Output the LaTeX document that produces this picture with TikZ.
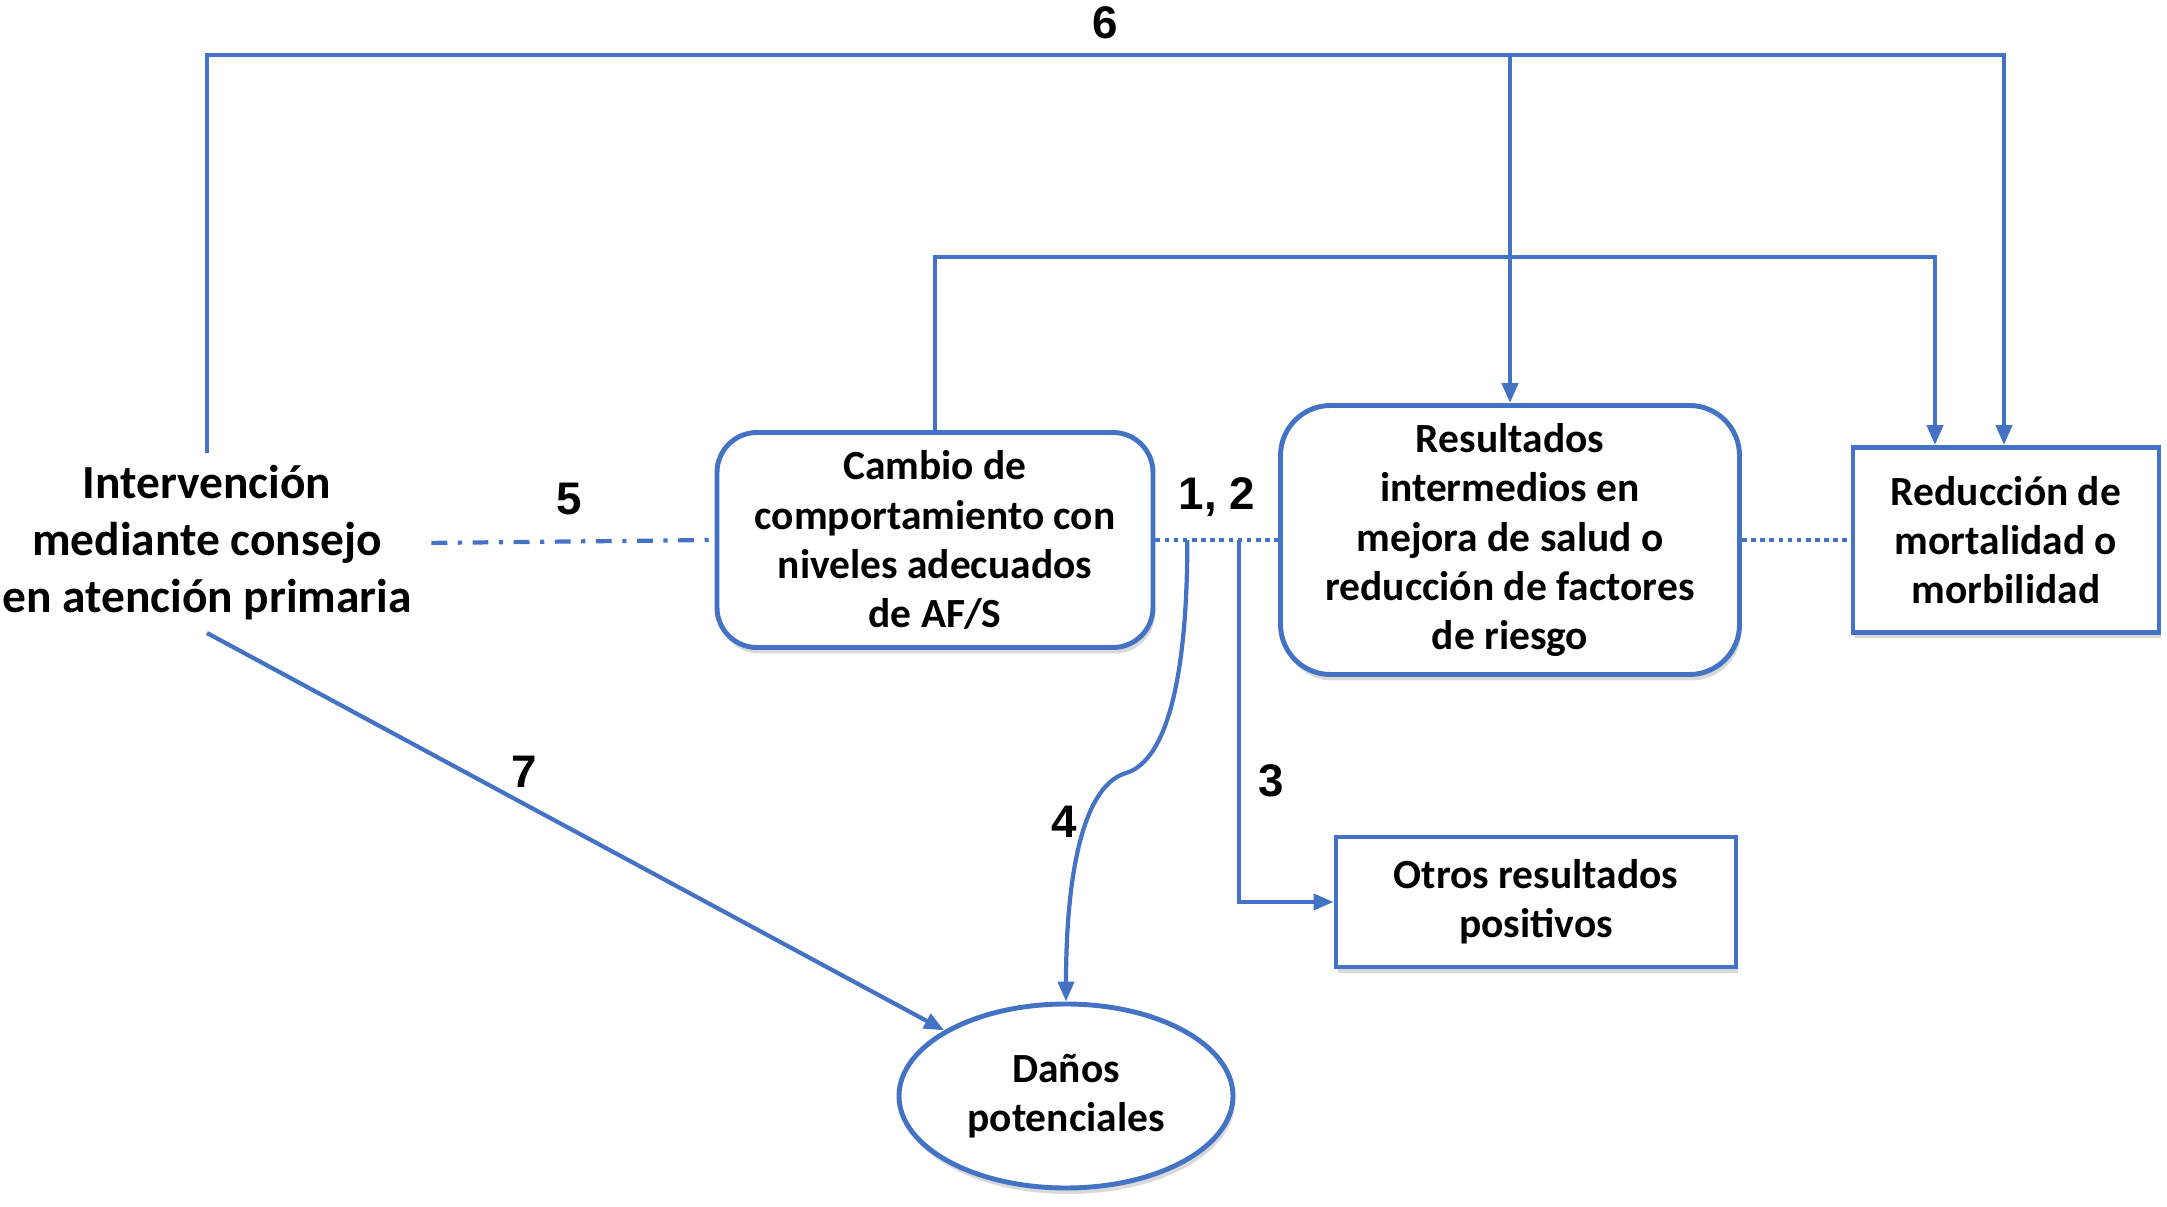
\documentclass[tikz,border=0pt]{standalone}
\usepackage{fontspec}
\setmainfont{Carlito}
\newfontfamily\numfont{Liberation Sans}
\usepackage{xcolor}
\usepackage{tikz}
\usetikzlibrary{arrows.meta,shapes.geometric,shadows,calc}
\definecolor{linkblue}{HTML}{4472C4}

\begin{document}
\begin{tikzpicture}[
  box/.style={draw=linkblue, line width=1.4pt, fill=white, align=center,
              inner sep=0pt, font=\bfseries\fontsize{11.8}{14}\selectfont,
              drop shadow={shadow xshift=0.02cm, shadow yshift=-0.06cm, opacity=0.3}},
  rbox/.style={box, rounded corners=0.4cm},
  link/.style={draw=linkblue, line width=1.2pt},
  arr/.style={link, -{Triangle[length=2mm,width=1.6mm]}},
  num/.style={font=\numfont\bfseries\fontsize{13}{15}\selectfont, inner sep=2pt}
]
\useasboundingbox (0,0) rectangle (21.67,-12.07);
\node[align=center, inner sep=0.12cm, font=\bfseries\fontsize{13.5}{16.2}\selectfont]
  (interv) at (2.07,-5.43) {Intervención\\mediante consejo\\en atención primaria};
\node[rbox, minimum width=4.36cm, minimum height=2.15cm] (cambio) at (9.35,-5.40)
  {Cambio de\\comportamiento con\\niveles adecuados\\de AF/S};
\node[rbox, rounded corners=0.5cm, minimum width=4.59cm, minimum height=2.69cm] (resul) at (15.10,-5.40)
  {Resultados\\intermedios en\\mejora de salud o\\reducción de factores\\de riesgo};
\node[box, minimum width=3.06cm, minimum height=1.85cm] (reduc) at (20.06,-5.40)
  {Reducción de\\mortalidad o\\morbilidad};
\node[box, minimum width=4.0cm, minimum height=1.30cm] (otros) at (15.36,-9.02)
  {Otros resultados\\positivos};
\node[box, ellipse, minimum width=3.34cm, minimum height=1.84cm] (danos) at (10.66,-10.96)
  {Daños\\potenciales};
\coordinate (r6) at (20.04,-0.55);
\coordinate (r1) at (19.35,-2.57);
\path (cambio.east) -- coordinate[pos=0.26] (b4) coordinate[pos=0.68] (b3) (resul.west);
% top links
\draw[arr] (interv.north) |- node[num, above=2pt, pos=0.75]{6} (r6) -- (r6 |- reduc.north);
\draw[arr] (resul.north |- r6) -- (resul.north);
\draw[arr] (cambio.north) |- (r1) -- (r1 |- reduc.north);
% middle row
\draw[link, dash pattern=on 4.5pt off 3pt on 1.2pt off 3pt, shorten <=2pt]
  (interv.east) -- node[num, above=5pt]{5} (cambio.west);
\draw[link, dash pattern=on 1.3pt off 1.3pt] (cambio.east) -- node[num, above=4pt]{1, 2} (resul.west);
\draw[link, dash pattern=on 1.3pt off 1.3pt] (resul.east) -- (reduc.west);
% branches
\draw[arr] (b4) .. controls +(0,-1.6) and +(0.34,0.1) .. (11.26,-7.73)
  .. controls +(-0.5,-0.15) and +(0,1.0) .. node[num, left, pos=0.36]{4} (danos.north);
\draw[arr] (b3) |- node[num, right=3pt, pos=0.333]{3} (otros.west);
\draw[arr] (interv.south) -- node[num, above=2pt, pos=0.43]{7} (danos);
\end{tikzpicture}
\end{document}
